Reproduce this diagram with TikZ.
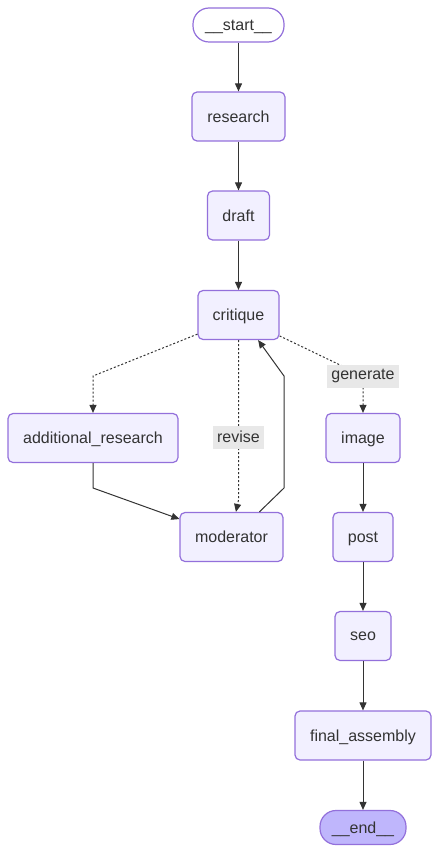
\documentclass[tikz,border=0pt]{standalone}
\usepackage{fontspec}
\setmainfont{Liberation Sans}
\usetikzlibrary{arrows.meta,calc}
\definecolor{nodefill}{HTML}{F2F0FF}
\definecolor{nodeline}{HTML}{9370DB}
\definecolor{endfill}{HTML}{BFB6FC}
\definecolor{txt}{HTML}{333333}
\definecolor{lblfill}{HTML}{E8E8E8}
\tikzset{
  box/.style={draw=nodeline, fill=nodefill, line width=1.2pt, rounded corners=5pt,
    inner sep=0pt, minimum height=49pt, text=txt, font=\fontsize{16}{19}\selectfont,
    text depth=-1pt},
  pill/.style={box, rounded corners=16pt, minimum height=34pt},
  lbl/.style={fill=lblfill, inner sep=0pt, minimum height=23pt, text=txt, font=\fontsize{16}{19}\selectfont},
  edge/.style={draw=txt, line width=1pt, -{Triangle[length=8pt,width=7pt]}},
  dedge/.style={edge, dash pattern=on 2pt off 2pt}
}
\begin{document}
\begin{tikzpicture}[x=1pt,y=-1pt]
\useasboundingbox (0,0) rectangle (439,853);
\node[pill, fill=white, minimum width=91pt] (start) at (238.5,25) {\_\_start\_\_};
\node[box, minimum width=93pt] (research) at (238.5,116.5) {research};
\node[box, minimum width=62pt] (draft) at (238.5,215.5) {draft};
\node[box, minimum width=81pt] (critique) at (238.5,315) {critique};
\node[box, minimum width=170pt] (addres) at (93,438) {additional\_research};
\node[box, minimum width=103pt] (moderator) at (231.5,537) {moderator};
\node[box, minimum width=74pt] (image) at (363,438) {image};
\node[box, minimum width=60pt] (post) at (363,537) {post};
\node[box, minimum width=56pt] (seo) at (363,636) {seo};
\node[box, minimum width=136pt] (final) at (363,735.5) {final\_assembly};
\node[pill, fill=endfill, minimum width=86pt] (end) at (363,827.5) {\_\_end\_\_};

\coordinate (b1) at (93,376);
\coordinate (b2) at (93,488);
\coordinate (b3) at (238.5,500);
\coordinate (b4) at (284,488);
\coordinate (b5) at (284,376);
\coordinate (gen) at (363,376);
\coordinate (rev) at (238.5,437);

\draw[edge] (start) -- (research);
\draw[edge] (research) -- (draft);
\draw[edge] (draft) -- (critique);
\draw[dedge] (critique.205) -- (b1) -- (addres.north);
\draw[dedge] (critique.south) -- (b3) -- (moderator.80);
\draw[dedge] (critique.333) -- (gen) -- (image.north);
\draw[edge] (addres.south) -- (b2) -- (moderator.161);
\draw[edge] (moderator.42) -- (b4) -- (b5) -- (critique.-52);
\draw[edge] (image) -- (post);
\draw[edge] (post) -- (seo);
\draw[edge] (seo) -- (final);
\draw[edge] (final) -- (end);

\node[lbl, minimum width=72pt] (genlbl) at (gen) {generate};
\node[lbl, minimum width=51pt] (revlbl) at (rev) {revise};
\end{tikzpicture}
\end{document}
